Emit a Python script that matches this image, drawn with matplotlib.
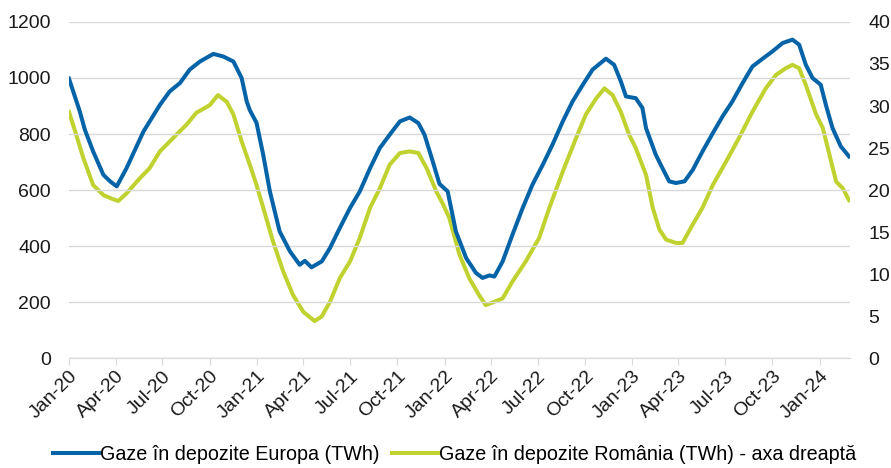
import matplotlib
matplotlib.use("Agg")
import matplotlib.pyplot as plt
import matplotlib.dates as mdates
import pandas as pd

plt.rcParams['font.family'] = ['Liberation Sans', 'DejaVu Sans']

# Gas in storage, Europe (TWh, left axis)
eu_dates = ['2020-01-01', '2020-01-22', '2020-02-01', '2020-02-17', '2020-03-08', '2020-03-21',
            '2020-04-03', '2020-04-22', '2020-05-25', '2020-06-26', '2020-07-15', '2020-08-04',
            '2020-08-23', '2020-09-12', '2020-10-08', '2020-10-27', '2020-11-16', '2020-12-02',
            '2020-12-12', '2020-12-18', '2020-12-31', '2021-01-13', '2021-01-26', '2021-02-14',
            '2021-03-06', '2021-03-25', '2021-04-04', '2021-04-17', '2021-05-07', '2021-05-23',
            '2021-06-11', '2021-07-01', '2021-07-20', '2021-08-09', '2021-08-28', '2021-09-16',
            '2021-10-06', '2021-10-25', '2021-11-11', '2021-11-23', '2021-12-09', '2021-12-22',
            '2022-01-07', '2022-01-23', '2022-02-12', '2022-03-03', '2022-03-16', '2022-03-29',
            '2022-04-08', '2022-04-24', '2022-05-13', '2022-06-02', '2022-06-21', '2022-07-11',
            '2022-07-30', '2022-08-19', '2022-09-07', '2022-09-27', '2022-10-16', '2022-11-11',
            '2022-11-27', '2022-12-10', '2022-12-20', '2023-01-08', '2023-01-21', '2023-01-28',
            '2023-02-16', '2023-03-01', '2023-03-14', '2023-03-27', '2023-04-13', '2023-04-29',
            '2023-05-18', '2023-06-07', '2023-06-26', '2023-07-15', '2023-08-04', '2023-08-23',
            '2023-09-12', '2023-10-01', '2023-10-21', '2023-11-09', '2023-11-22', '2023-12-05',
            '2023-12-18', '2024-01-03', '2024-01-13', '2024-01-26', '2024-02-11', '2024-02-27']
eu_values = [998, 881, 815, 738, 654, 631,
             613, 678, 809, 904, 952, 982,
             1030, 1059, 1086, 1077, 1059, 1000,
             916, 885, 840, 726, 595, 452,
             381, 333, 347, 324, 345, 393,
             464, 536, 595, 678, 750, 797,
             845, 859, 839, 797, 702, 622,
             595, 452, 357, 304, 286, 295,
             291, 345, 440, 536, 619, 690,
             762, 845, 916, 976, 1030, 1069,
             1047, 988, 934, 928, 893, 821,
             726, 678, 631, 625, 631, 672,
             738, 803, 863, 916, 982, 1041,
             1069, 1095, 1125, 1137, 1119, 1047,
             1000, 976, 904, 821, 756, 720]

# Gas in storage, Romania (TWh, right axis)
ro_dates = ['2020-01-01', '2020-01-13', '2020-01-29', '2020-02-17', '2020-03-08', '2020-03-27',
            '2020-04-06', '2020-04-22', '2020-05-18', '2020-06-06', '2020-06-26', '2020-07-22',
            '2020-08-17', '2020-09-05', '2020-10-01', '2020-10-17', '2020-11-03', '2020-11-16',
            '2020-12-02', '2020-12-18', '2020-12-31', '2021-01-13', '2021-02-01', '2021-02-21',
            '2021-03-12', '2021-04-01', '2021-04-23', '2021-05-07', '2021-05-23', '2021-06-11',
            '2021-07-01', '2021-07-20', '2021-08-09', '2021-08-28', '2021-09-16', '2021-10-06',
            '2021-10-25', '2021-11-11', '2021-11-27', '2021-12-16', '2021-12-29', '2022-01-10',
            '2022-01-30', '2022-02-18', '2022-03-09', '2022-03-22', '2022-04-08', '2022-04-24',
            '2022-05-13', '2022-06-08', '2022-07-04', '2022-07-24', '2022-08-19', '2022-09-14',
            '2022-10-03', '2022-10-23', '2022-11-08', '2022-11-24', '2022-12-10', '2022-12-26',
            '2023-01-08', '2023-01-28', '2023-02-10', '2023-02-23', '2023-03-08', '2023-03-27',
            '2023-04-09', '2023-04-29', '2023-05-18', '2023-06-07', '2023-07-03', '2023-07-28',
            '2023-08-23', '2023-09-18', '2023-10-08', '2023-10-27', '2023-11-09', '2023-11-22',
            '2023-12-05', '2023-12-25', '2024-01-07', '2024-01-20', '2024-02-02', '2024-02-15',
            '2024-02-27']
ro_values = [29.3, 27.0, 23.8, 20.6, 19.4, 18.9,
             18.7, 19.6, 21.4, 22.6, 24.6, 26.2,
             27.8, 29.2, 30.1, 31.3, 30.5, 29.0,
             25.8, 23.0, 20.6, 17.9, 13.9, 10.3,
             7.5, 5.5, 4.4, 4.95, 6.7, 9.5,
             11.5, 14.3, 17.9, 20.2, 23.0, 24.4,
             24.6, 24.4, 22.6, 19.8, 18.3, 16.7,
             12.3, 9.5, 7.5, 6.3, 6.7, 7.1,
             9.1, 11.5, 14.3, 17.9, 22.2, 26.2,
             29.0, 30.9, 32.1, 31.3, 29.3, 26.6,
             25.0, 21.8, 17.9, 15.3, 14.1, 13.7,
             13.7, 15.9, 17.9, 20.6, 23.4, 26.2,
             29.3, 32.1, 33.7, 34.5, 34.9, 34.5,
             32.5, 29.0, 27.4, 24.2, 21.0, 20.2,
             18.8]

left_ticks = [0, 200, 400, 600, 800, 1000, 1200]
right_ticks = [0, 5, 10, 15, 20, 25, 30, 35, 40]

eu_label = 'Gaze în depozite Europa (TWh)'
ro_label = 'Gaze în depozite România (TWh) - axa dreaptă'

blue = '#0563a7'
green = '#bfd22f'
grid_gray = '#d9d9d9'
text_color = '#1a1a1a'

fig = plt.figure(figsize=(8.91, 4.68), dpi=100)
ax = fig.add_axes([0.0774, 0.235, 0.8766, 0.718])
ax2 = ax.twinx()

eu_x = pd.to_datetime(eu_dates)
ro_x = pd.to_datetime(ro_dates)

l1, = ax.plot(eu_x, eu_values, color=blue, lw=2.9, solid_joinstyle='round', zorder=3)
l2, = ax2.plot(ro_x, ro_values, color=green, lw=2.9, solid_joinstyle='round', zorder=2)

# blue series drawn over the green one
ax.set_zorder(ax2.get_zorder() + 1)
ax.patch.set_visible(False)

ax.set_xlim(pd.Timestamp('2020-01-01'), pd.Timestamp('2024-02-29'))
ax.set_ylim(0, 1200)
ax2.set_ylim(0, 40)
ax.set_yticks(left_ticks)
ax2.set_yticks(right_ticks)

ax.grid(axis='y', color=grid_gray, lw=1.0)
ax.set_axisbelow(True)

for a in (ax, ax2):
    for side in ('left', 'right', 'top'):
        a.spines[side].set_visible(False)
    a.spines['bottom'].set_color(grid_gray)
    a.tick_params(axis='y', length=0, labelsize=14, colors=text_color)

ax.tick_params(axis='y', pad=13)
ax2.tick_params(axis='y', pad=13)

ax.xaxis.set_major_locator(mdates.MonthLocator(bymonth=[1, 4, 7, 10]))
ax.xaxis.set_major_formatter(mdates.DateFormatter('%b-%y'))
ax.tick_params(axis='x', length=5, color=grid_gray, labelsize=14, labelcolor=text_color, pad=2)
plt.setp(ax.get_xticklabels(), rotation=45, ha='right', rotation_mode='anchor')

fig.legend([l1, l2], [eu_label, ro_label], loc='lower center', bbox_to_anchor=(0.51, -0.03),
           ncol=2, frameon=False, fontsize=14.25, handlelength=2.35, handletextpad=0.05,
           columnspacing=0.6)

fig.savefig('out.png', dpi=100)
